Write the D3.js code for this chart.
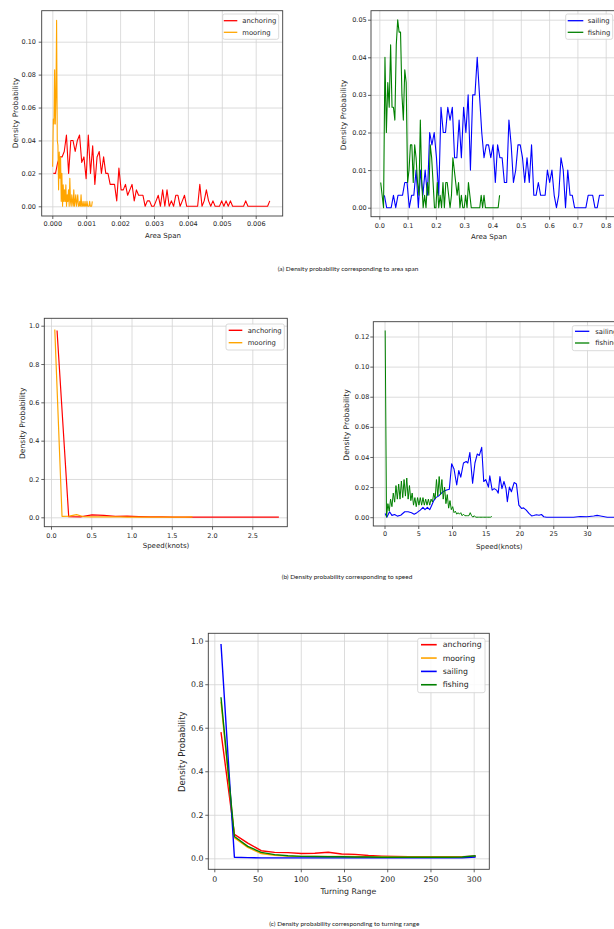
<!DOCTYPE html>
<html><head><meta charset="utf-8">
<script src="https://cdn.jsdelivr.net/npm/d3@7"></script>
<style>html,body{margin:0;padding:0;background:#fff;overflow:hidden}svg{display:block}</style>
</head><body>
<svg id="c" width="614" height="929"></svg>
<script>
// ---------------- DATA ----------------
// (a) Area span — anchoring / mooring (histogram bins: start + i*step)
const areaAnchoringStart = 0.00003, areaAnchoringStep = 0.0000645;
const areaAnchoring = [0.02,0.02,0.0267,0.03,0.03,0.0333,0.0433,0.02,0.04,0.04,
 0.0333,0.04,0.0433,0.0267,0.03,0.0167,0.0433,0.02,0.0367,0.0133,
 0.03,0.0333,0.02,0.03,0.02,0.02,0.0133,0.0133,0.0133,0.0033,
 0.0233,0.01,0.01,0.0133,0.0067,0.01,0.0133,0.0033,0.01,0.0067,
 0.0067,0.0067,0,0.0033,0.0033,0,0,0.0033,0.0067,0,
 0.01,0,0.01,0,0.0033,0,0.0067,0.0067,0,0.0033,
 0.0067,0,0,0,0,0,0,0.0133,0,0.0033,
 0.01,0.0033,0,0.0033,0,0,0,0.0033,0,0.0033,
 0,0.0033,0,0,0,0,0,0,0.0033,0,
 0,0,0,0,0,0,0,0,0,0.0033];
const areaMooringStart = 0.00001, areaMooringStep = 0.0000195;
const areaMooring = [0.024,0.053,0.05,0.083,0.05,0.067,0.113,0.04,0.037,0.01,
 0.033,0.017,0.03,0.003,0.02,0,0.013,0.003,0.01,0.003,
 0.013,0,0.007,0.003,0.01,0,0.017,0.003,0,0.007,
 0.003,0,0.01,0,0.003,0.007,0,0.003,0.007,0,
 0,0.003,0,0.007,0,0,0.003,0,0,0.003,
 0,0,0.003,0,0,0,0.003,0,0,0,0.003];
// (a) Area span — sailing / fishing
const areaSailingStart = 0.018, areaSailingStep = 0.008;
const areaSailing = [0.0033,0,0,0,0.0033,0,0.0033,0.0033,0.0033,0.0067,
 0.0067,0,0.0033,0.0033,0.01,0,0.01,0.0033,0.01,0.0033,
 0.02,0.0167,0.02,0.0133,0.0033,0.0267,0.02,0.02,0.0267,0.0233,
 0.0267,0.0133,0.0133,0.0233,0.0133,0.0267,0.02,0.03,0.01,0.03,
 0.03,0.04,0.03,0.02,0.0133,0.0167,0.0167,0.0133,0.0167,0.0067,
 0.0167,0.0133,0.0133,0.0067,0.0067,0.0233,0.0167,0.0067,0.01,0.0167,
 0.0167,0.0133,0.0067,0.0133,0.0067,0.0167,0.0033,0.0033,0.0067,0.0033,
 0.0033,0.0033,0.01,0.0067,0.01,0.0033,0,0.0033,0.0133,0.01,
 0,0.01,0.0033,0.0033,0,0,0,0,0,0,
 0.0033,0.0033,0.0033,0,0,0.0033,0.0033,0.0033];
const areaFishingStart = 0.005, areaFishingStep = 0.005;
const areaFishing = [0.0067,0.0033,0,0.04,0.02,0.0333,0.0267,0.0433,0.0267,0.0267,
 0.0233,0.0433,0.05,0.0467,0.0467,0.03,0.0233,0.0367,0.0333,0.0067,
 0.01,0.0167,0.0167,0.0067,0.0167,0.0133,0.0067,0.0033,0.0233,0.0067,
 0,0.0033,0,0.0067,0.0033,0.0167,0.0133,0.0067,0,0,
 0.0067,0,0.0033,0,0.0067,0,0.0067,0.0067,0.0033,0,
 0.0033,0.0133,0.01,0.0067,0.0033,0.0067,0,0.0033,0,0,
 0.0033,0,0.0067,0.0033,0,0,0,0,0,0,
 0,0.0033,0,0.0033,0,0,0,0,0,0,
 0,0,0,0,0.0033];
// (b) Speed — anchoring / mooring
const speedAnchoringStart = 0.075, speedAnchoringStep = 0.145;
const speedAnchoring = [0.975,0.003,0.002,0.013,0.01,0.005,0.006,0.004,0.002,0.002,
 0.001,0.001,0.001,0.001,0.001,0.001,0.001,0.001,0.001,0.001];
const speedMooringStart = 0.047, speedMooringStep = 0.09;
const speedMooring = [0.98,0.005,0.006,0.014,0.003,0.002,0.002,0.002,0.002,0.002,
 0.001,0.001,0.001,0.001,0.001,0.001,0.001,0.001,0.001,0.002];
// (b) Speed — sailing (read points) / fishing (bins)
const speedSailingX = [0.1,0.35,0.75,1.1,1.5,1.9,2.4,3.0,3.5,4.0,
 4.4,4.8,5.3,5.7,6.0,6.35,6.7,7.0,7.3,7.6,
 8.0,8.3,8.7,9.2,9.6,9.95,10.3,10.7,11.0,11.3,
 11.7,12.1,12.35,12.65,13.05,13.4,13.75,14.05,14.4,14.7,
 15.0,15.4,15.6,15.95,16.25,16.6,16.85,17.1,17.4,17.7,
 18.0,18.2,18.5,18.8,19.2,19.55,19.9,20.3,20.6,21.0,
 21.4,21.8,22.1,22.5,22.9,23.25,23.6,24.0,25,26,
 27,28,29,30,31,31.5,32,33,34];
const speedSailingY = [0.0025,0,0.0036,0.0012,0.0018,0.0007,0.0013,0.0036,0.0036,0.003,
 0.002,0.003,0.0047,0.0065,0.005,0.0065,0.005,0.008,0.011,0.013,
 0.014,0.0154,0.017,0.018,0.0185,0.0355,0.032,0.0214,0.031,0.0266,
 0.036,0.037,0.036,0.043,0.0225,0.036,0.042,0.041,0.0464,0.0237,
 0.025,0.02,0.0275,0.018,0.019,0.018,0.016,0.027,0.019,0.0237,
 0.019,0.0103,0.02,0.0169,0.023,0.022,0.008,0.0058,0.0062,0.0047,
 0.0025,0.0009,0.0011,0.0016,0.0013,0.0018,0.0003,0,0,0,
 0,0,0.0005,0.0003,0.0008,0.0012,0.0008,0,0];
const speedFishingStart = 0.1, speedFishingStep = 0.2;
const speedFishing = [0.124,0,0.009,0.004,0.012,0.007,0.016,0.010,0.021,0.012,
 0.022,0.012,0.024,0.013,0.025,0.014,0.026,0.012,0.021,0.011,
 0.016,0.008,0.013,0.007,0.013,0.008,0.013,0.008,0.013,0.008,
 0.012,0.008,0.012,0.008,0.012,0.010,0.016,0.012,0.025,0.014,
 0.027,0.015,0.025,0.012,0.020,0.009,0.015,0.006,0.011,0.005,
 0.007,0.003,0.004,0.002,0.003,0.002,0.003,0.001,0.002,0.001,
 0.001,0.001,0.001,0.003,0.001,0,0.001,0,0,0,
 0,0,0,0,0,0,0,0,0,0.0005];
// (c) Turning range — four classes
const turnStart = 7.75, turnStep = 15.5;
const turnAnchoring = [0.58,0.11,0.07,0.035,0.027,0.026,0.022,0.023,0.028,0.02,0.018,0.013,0.01,0.008,0.007,0.007,0.007,0.007,0.007,0.01];
const turnMooring   = [0.72,0.095,0.05,0.022,0.014,0.01,0.009,0.009,0.009,0.008,0.008,0.007,0.007,0.006,0.006,0.006,0.006,0.006,0.006,0.009];
const turnSailing   = [0.985,0.005,0.003,0.002,0.002,0.002,0.002,0.002,0.002,0.002,0.002,0.002,0.002,0.002,0.002,0.002,0.002,0.002,0.002,0.006];
const turnFishing   = [0.74,0.10,0.055,0.027,0.017,0.012,0.009,0.008,0.007,0.007,0.006,0.006,0.005,0.005,0.005,0.005,0.005,0.005,0.006,0.012];

// tick values
const areaTicksL = [0,0.001,0.002,0.003,0.004,0.005,0.006];
const areaYTicksL = [0,0.02,0.04,0.06,0.08,0.10];
const areaTicksR = [0,0.1,0.2,0.3,0.4,0.5,0.6,0.7,0.8];
const areaYTicksR = [0,0.01,0.02,0.03,0.04,0.05];
const speedTicksL = [0,0.5,1.0,1.5,2.0,2.5];
const speedYTicksL = [0,0.2,0.4,0.6,0.8,1.0];
const speedTicksR = [0,5,10,15,20,25,30];
const speedYTicksR = [0,0.02,0.04,0.06,0.08,0.10,0.12];
const turnTicks = [0,50,100,150,200,250,300];
const turnYTicks = [0,0.2,0.4,0.6,0.8,1.0];

const captions = ["(a) Density probability corresponding to area span",
                  "(b) Density probability corresponding to speed",
                  "(c) Density probability corresponding to turning range"];

// ---------------- DRAW ----------------
const C = {anchoring:'#ff0000', mooring:'#ffa500', sailing:'#0000ff', fishing:'#008000'};
const FONT = 'DejaVu Sans';
const svg = d3.select('#c');
const defs = svg.append('defs');
const binned = (start, step, vals) => vals.map((v,i)=>[start+i*step, v]);

function panel(p){
  const [L,T,R,B] = p.box;
  const x = d3.scaleLinear().domain(p.xCal).range(p.xPix);
  const y = d3.scaleLinear().domain(p.yCal).range(p.yPix);
  const g = svg.append('g');
  defs.append('clipPath').attr('id','clip'+p.id).append('rect')
    .attr('x',L).attr('y',T).attr('width',R-L).attr('height',B-T);
  // grid
  const gx = g.append('g').attr('transform',`translate(0,${B})`)
    .call(d3.axisBottom(x).tickValues(p.xTicks).tickSize(-(B-T)).tickFormat(''));
  const gy = g.append('g').attr('transform',`translate(${L},0)`)
    .call(d3.axisLeft(y).tickValues(p.yTicks).tickSize(-(R-L)).tickFormat(''));
  [gx,gy].forEach(s=>{s.select('.domain').remove();
    s.selectAll('line').attr('stroke','#d3d3d3').attr('stroke-width',0.8);});
  // series
  const cg = g.append('g').attr('clip-path',`url(#clip${p.id})`);
  const line = d3.line().x(d=>x(d[0])).y(d=>y(d[1]));
  p.series.forEach(s=>{
    cg.append('path').datum(s.pts).attr('d',line).attr('fill','none')
      .attr('stroke',s.color).attr('stroke-width',s.lw||p.lw).attr('stroke-linejoin','round');
  });
  // spines
  g.append('rect').attr('x',L).attr('y',T).attr('width',R-L).attr('height',B-T)
    .attr('fill','none').attr('stroke','#3c3c3c').attr('stroke-width',0.9);
  // axes
  const ts = 3;
  const xPad = p.xTickC - B - ts - 0.346*p.tf;
  const ax = g.append('g').attr('transform',`translate(0,${B})`)
    .call(d3.axisBottom(x).tickValues(p.xTicks).tickFormat(d3.format(p.xFmt)).tickSize(ts).tickPadding(xPad));
  const ay = g.append('g').attr('transform',`translate(${L},0)`)
    .call(d3.axisLeft(y).tickValues(p.yTicks).tickFormat(d3.format(p.yFmt)).tickSize(ts).tickPadding(L - p.yTickE - ts));
  [ax,ay].forEach(s=>{s.select('.domain').remove();
    s.attr('font-family',FONT).attr('font-size',p.tf);
    s.selectAll('line').attr('stroke','#3c3c3c').attr('stroke-width',0.8);
    s.selectAll('text').attr('fill','#262626');});
  // axis labels
  g.append('text').attr('x',p.xLab[0]).attr('y',p.xLab[1]).attr('dy','0.35em')
    .attr('text-anchor','middle').attr('font-family',FONT).attr('font-size',p.lfx)
    .attr('fill','#262626').text(p.xLabel);
  g.append('text').attr('transform',`translate(${p.yLab[0]},${p.yLab[1]}) rotate(-90)`)
    .attr('dy','0.35em').attr('text-anchor','middle').attr('font-family',FONT)
    .attr('font-size',p.lfy).attr('fill','#262626').text('Density Probability');
  // legend
  const lg = p.legend;
  g.append('rect').attr('x',lg.x).attr('y',lg.y).attr('width',lg.w).attr('height',lg.h)
    .attr('rx',2).attr('fill','#fff').attr('fill-opacity',0.85)
    .attr('stroke','#d0d0d0').attr('stroke-width',0.8);
  p.series.forEach((s,i)=>{
    const yy = lg.row0 + i*lg.dy;
    g.append('line').attr('x1',lg.lx0).attr('x2',lg.lx1).attr('y1',yy).attr('y2',yy)
      .attr('stroke',s.color).attr('stroke-width',p.lw+0.2);
    g.append('text').attr('x',lg.tx).attr('y',yy).attr('dy','0.35em')
      .attr('font-family',FONT).attr('font-size',lg.fs).attr('fill','#262626').text(s.name);
  });
}

panel({id:'a1', box:[41.7,10.7,282.7,216], xCal:[0,0.006], xPix:[52.3,255.7],
  yCal:[0,0.1], yPix:[206.3,41.7], xTicks:areaTicksL, yTicks:areaYTicksL,
  xFmt:'.3f', yFmt:'.2f', tf:6.5, lw:1.1, xTickC:224, yTickE:36,
  xLabel:'Area Span', xLab:[163,235.3], yLab:[15,113], lfx:7, lfy:7.5,
  series:[{name:'anchoring',color:C.anchoring,pts:binned(areaAnchoringStart,areaAnchoringStep,areaAnchoring)},
          {name:'mooring',color:C.mooring,pts:binned(areaMooringStart,areaMooringStep,areaMooring)}],
  legend:{x:222.7,y:14,w:56,h:25.3,row0:20.7,dy:11.6,lx0:223.8,lx1:237.3,tx:242.3,fs:6.8}});

panel({id:'a2', box:[371,10.7,618,216.7], xCal:[0,0.8], xPix:[379.3,605.7],
  yCal:[0,0.05], yPix:[207.7,19.7], xTicks:areaTicksR, yTicks:areaYTicksR,
  xFmt:'.1f', yFmt:'.2f', tf:6.5, lw:1.1, xTickC:226, yTickE:366.7,
  xLabel:'Area Span', xLab:[489,236.5], yLab:[343.3,115], lfx:7, lfy:7.5,
  series:[{name:'sailing',color:C.sailing,pts:binned(areaSailingStart,areaSailingStep,areaSailing)},
          {name:'fishing',color:C.fishing,pts:binned(areaFishingStart,areaFishingStep,areaFishing)}],
  legend:{x:565.7,y:14,w:47,h:25.3,row0:20.7,dy:11.6,lx0:567.7,lx1:583.3,tx:587.7,fs:6.8}});

panel({id:'b1', box:[44.3,318.3,287.3,526.7], xCal:[0,2.5], xPix:[51,252.3],
  yCal:[0,1], yPix:[517.3,325.7], xTicks:speedTicksL, yTicks:speedYTicksL,
  xFmt:'.1f', yFmt:'.1f', tf:6.5, lw:1.2, xTickC:535.5, yTickE:39.3,
  xLabel:'Speed(knots)', xLab:[166,546], yLab:[22.3,423.3], lfx:7, lfy:7.6,
  series:[{name:'anchoring',color:C.anchoring,pts:binned(speedAnchoringStart,speedAnchoringStep,speedAnchoring)},
          {name:'mooring',color:C.mooring,pts:binned(speedMooringStart,speedMooringStep,speedMooring)}],
  legend:{x:226,y:324,w:58.3,h:26,row0:330.3,dy:12.4,lx0:228.7,lx1:242.3,tx:247.7,fs:6.8}});

panel({id:'b2', box:[373.3,321.7,620,526], xCal:[0,30], xPix:[384.5,587],
  yCal:[0,0.12], yPix:[517.2,336.5], xTicks:speedTicksR, yTicks:speedYTicksR,
  xFmt:'d', yFmt:'.2f', tf:6.5, lw:1.1, xTickC:534, yTickE:369.3,
  xLabel:'Speed(knots)', xLab:[499.3,546.7], yLab:[346,425], lfx:7, lfy:7.6,
  series:[{name:'sailing',color:C.sailing,pts:speedSailingX.map((v,i)=>[v,speedSailingY[i]])},
          {name:'fishing',color:C.fishing,lw:1.0,pts:binned(speedFishingStart,speedFishingStep,speedFishing)}],
  legend:{x:572.3,y:325.7,w:60,h:25,row0:331.3,dy:11.7,lx0:575,lx1:589.3,tx:595.3,fs:6.8}});

panel({id:'c', box:[208.3,633.3,489.3,869.3], xCal:[0,300], xPix:[214.3,473.7],
  yCal:[0,1], yPix:[858.3,640.7], xTicks:turnTicks, yTicks:turnYTicks,
  xFmt:'d', yFmt:'.1f', tf:7.8, lw:1.4, xTickC:879, yTickE:203.5,
  xLabel:'Turning Range', xLab:[348.3,891.7], yLab:[182.3,751.7], lfx:7.8, lfy:8.6,
  series:[{name:'anchoring',color:C.anchoring,pts:binned(turnStart,turnStep,turnAnchoring)},
          {name:'mooring',color:C.mooring,pts:binned(turnStart,turnStep,turnMooring)},
          {name:'sailing',color:C.sailing,pts:binned(turnStart,turnStep,turnSailing)},
          {name:'fishing',color:C.fishing,pts:binned(turnStart,turnStep,turnFishing)}],
  legend:{x:417.7,y:638.3,w:67.3,h:54.4,row0:644.7,dy:13.35,lx0:421,lx1:436.7,tx:442.7,fs:7.8}});

// captions
const capPos = [[277.7,418.3,269],[281.7,412.3,577.3],[269.3,419.3,924]];
captions.forEach((t,i)=>{
  const [x0,x1,yc] = capPos[i];
  svg.append('text').attr('x',x0).attr('y',yc).attr('dy','0.35em')
    .attr('font-family','Lato').attr('font-size',5.6).attr('fill','#222')
    .attr('textLength',x1-x0).attr('lengthAdjust','spacingAndGlyphs').text(t);
});
</script>
</body></html>
